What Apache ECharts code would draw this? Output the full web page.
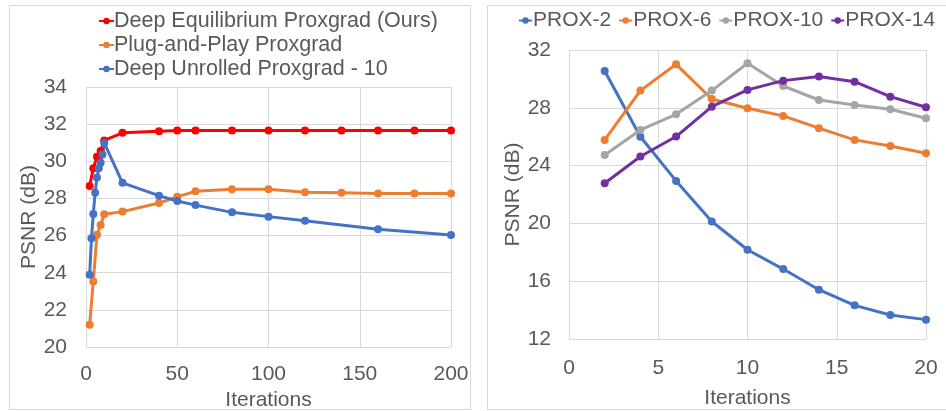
<!DOCTYPE html>
<html>
<head>
<meta charset="utf-8">
<script src="https://cdn.jsdelivr.net/npm/echarts@6/dist/echarts.min.js"></script>
<style>html,body{margin:0;padding:0;background:#fff}#c{width:946px;height:411px}</style>
</head>
<body>
<div id="c"></div>
<script>
// Left panel data
const deqX = [2,4,6,8,10,20,40,50,60,80,100,120,140,160,180,200];
const deqY = [28.67,29.62,30.24,30.55,31.12,31.53,31.62,31.66,31.66,31.66,31.66,31.66,31.66,31.66,31.66,31.66];
const pnpX = [2,4,6,8,10,20,40,50,60,80,100,120,140,160,180,200];
const pnpY = [21.2,23.53,26.04,26.57,27.15,27.29,27.75,28.09,28.38,28.49,28.49,28.33,28.31,28.27,28.27,28.27];
const unrX = [2,3,4,5,6,7,8,9,10,20,40,50,60,80,100,120,160,200];
const unrY = [23.89,25.86,27.16,28.31,29.13,29.62,29.92,30.37,30.99,28.84,28.15,27.86,27.64,27.25,27.02,26.8,26.34,26.03];
// Right panel data
const proxX = [2,4,6,8,10,12,14,16,18,20];
const prox2 = [30.55,26.0,22.94,20.13,18.18,16.84,15.41,14.33,13.66,13.34];
const prox6 = [25.78,29.19,31.01,28.61,27.97,27.44,26.59,25.78,25.36,24.86];
const prox10 = [24.74,26.47,27.55,29.19,31.08,29.51,28.54,28.2,27.9,27.28];
const prox14 = [22.78,24.63,26.01,28.08,29.24,29.88,30.16,29.81,28.77,28.04];

const names = ['Deep Equilibrium Proxgrad (Ours)','Plug-and-Play Proxgrad','Deep Unrolled Proxgrad - 10'];
const proxNames = ['PROX-2','PROX-6','PROX-10','PROX-14'];

const zip = (xs, ys) => xs.map((x, i) => [x, ys[i]]);
const FONT = '"Liberation Sans", Arial, sans-serif';
const TXT = '#595959';
const GRIDC = '#d9d9d9';
const FS = 21;

function mkSeries(name, data, color, xi) {
  return {
    name, type: 'line', data, xAxisIndex: xi, yAxisIndex: xi,
    symbol: 'circle', symbolSize: 8,
    lineStyle: { width: 3, color },
    itemStyle: { color },
    animation: false
  };
}
function xAx(gi, max, interval, margin, nameGap) {
  return {
    gridIndex: gi, type: 'value', min: 0, max, interval,
    name: 'Iterations', nameLocation: 'middle', nameGap,
    nameTextStyle: { fontFamily: FONT, fontSize: FS, color: TXT },
    axisLine: { show: false }, axisTick: { show: false },
    axisLabel: { fontFamily: FONT, fontSize: FS, color: TXT, margin },
    splitLine: { show: true, lineStyle: { color: GRIDC, width: 1 } }
  };
}
function yAx(gi, min, max, interval, margin, nameGap) {
  return {
    gridIndex: gi, type: 'value', min, max, interval,
    name: 'PSNR (dB)', nameLocation: 'middle', nameGap,
    nameTextStyle: { fontFamily: FONT, fontSize: FS, color: TXT },
    axisLine: { show: false }, axisTick: { show: false },
    axisLabel: { fontFamily: FONT, fontSize: FS, color: TXT, margin },
    splitLine: { show: true, lineStyle: { color: GRIDC, width: 1 } }
  };
}

const chart = echarts.init(document.getElementById('c'), null, { renderer: 'canvas' });
chart.setOption({
  backgroundColor: '#fff',
  animation: false,
  graphic: [
    { type: 'rect', shape: { x: 9.5, y: 5.5, width: 461, height: 404 }, style: { fill: 'none', stroke: GRIDC, lineWidth: 1 } },
    { type: 'rect', shape: { x: 487.5, y: 5.5, width: 460, height: 404 }, style: { fill: 'none', stroke: GRIDC, lineWidth: 1 } }
  ],
  grid: [
    { left: 86, right: 495, top: 87, bottom: 64, containLabel: false, outerBoundsMode: 'none' },
    { left: 569, right: 20, top: 50, bottom: 72, containLabel: false, outerBoundsMode: 'none' }
  ],
  legend: [
    {
      data: names, orient: 'vertical', left: 93, top: 5, itemGap: 2,
      itemWidth: 15, itemHeight: 8,
      textStyle: { fontFamily: FONT, fontSize: 21.5, color: TXT, padding: [0, 0, 0, -5] }
    },
    {
      data: proxNames, orient: 'horizontal', left: 518, top: 10, width: 428, itemGap: 7,
      itemWidth: 13, itemHeight: 8, padding: 0,
      textStyle: { fontFamily: FONT, fontSize: FS, color: TXT, padding: [0, 0, 0, -4] }
    }
  ],
  xAxis: [ xAx(0, 200, 50, 17, 39), xAx(1, 20, 5, 19, 49) ],
  yAxis: [ yAx(0, 20, 34, 2, 19, 45), yAx(1, 12, 32, 4, 18, 45) ],
  series: [
    mkSeries(names[0], zip(deqX, deqY), '#FF0000', 0),
    mkSeries(names[1], zip(pnpX, pnpY), '#ED7D31', 0),
    mkSeries(names[2], zip(unrX, unrY), '#4472C4', 0),
    mkSeries(proxNames[0], zip(proxX, prox2), '#4472C4', 1),
    mkSeries(proxNames[1], zip(proxX, prox6), '#ED7D31', 1),
    mkSeries(proxNames[2], zip(proxX, prox10), '#A5A5A5', 1),
    mkSeries(proxNames[3], zip(proxX, prox14), '#7030A0', 1)
  ]
});
</script>
</body>
</html>
